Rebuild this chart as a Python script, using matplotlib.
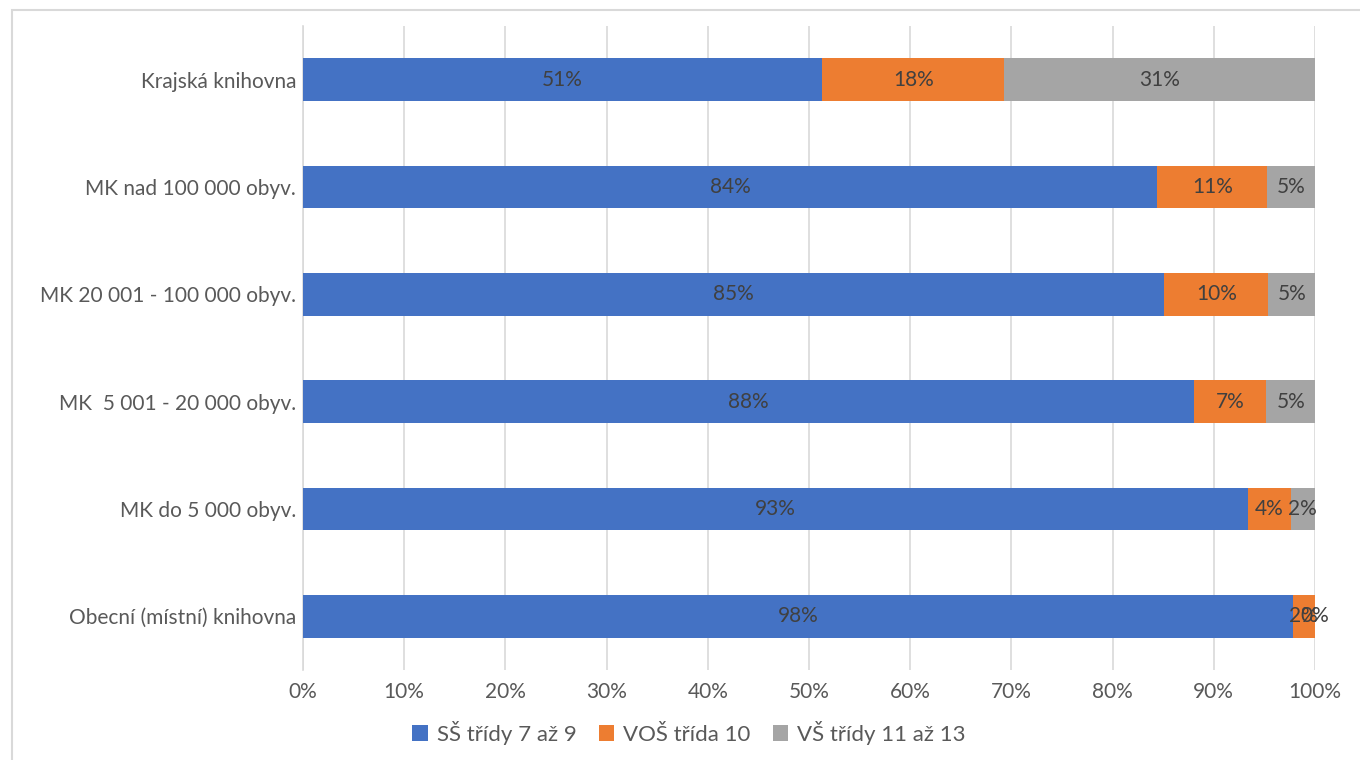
import numpy as np
import matplotlib.pyplot as plt
from matplotlib.patches import Rectangle

plt.rcParams["font.family"] = ["Lato", "DejaVu Sans"]

categories = [
    "Krajská knihovna",
    "MK nad 100 000 obyv.",
    "MK 20 001 - 100 000 obyv.",
    "MK  5 001 - 20 000 obyv.",
    "MK do 5 000 obyv.",
    "Obecní (místní) knihovna",
]
series_names = ["SŠ třídy 7 až 9", "VOŠ třída 10", "VŠ třídy 11 až 13"]
ss_vals = [0.513, 0.844, 0.851, 0.880, 0.934, 0.978]
vos_vals = [0.180, 0.109, 0.103, 0.072, 0.042, 0.022]
vs_vals = [0.307, 0.047, 0.046, 0.048, 0.024, 0.000]
colors = ["#4472C4", "#ED7D31", "#A5A5A5"]

text_col = "#595959"
label_col = "#404040"

fig = plt.figure(figsize=(13.6, 7.6), dpi=100)
# chart frame
fig.patches.append(Rectangle((12 / 1360, -0.01), 1.0, 1 - 10 / 760 + 0.01,
                             transform=fig.transFigure, fill=False,
                             edgecolor="#D9D9D9", linewidth=1.5))

ax = fig.add_axes([303 / 1360, 1 - 670 / 760, 1012 / 1360, 644 / 760])

y = np.arange(len(categories))
left = np.zeros(len(categories))
for name, vals, col in zip(series_names, [ss_vals, vos_vals, vs_vals], colors):
    vals = np.array(vals)
    ax.barh(y, vals, left=left, height=0.4, color=col, label=name, zorder=3)
    for yi, l, v in zip(y, left, vals):
        ax.text(l + v / 2, yi, f"{round(v * 100):.0f}%", ha="center", va="center",
                fontsize=15, color=label_col, zorder=4)
    left = left + vals

ax.set_ylim(len(categories) - 0.5, -0.5)
ax.set_xlim(0, 1)
ax.set_yticks(y)
ax.set_yticklabels(categories)
ax.set_xticks(np.arange(0, 1.01, 0.1))
ax.set_xticklabels([f"{int(round(t * 100))}%" for t in np.arange(0, 1.01, 0.1)])
ax.tick_params(axis="both", length=0, labelsize=15, labelcolor=text_col)
ax.tick_params(axis="x", pad=9)
ax.tick_params(axis="y", pad=5)
ax.grid(axis="x", color="#D9D9D9", linewidth=1.2, zorder=0)
for s in ["top", "right", "bottom"]:
    ax.spines[s].set_visible(False)
ax.spines["left"].set_color("#D9D9D9")
ax.spines["left"].set_linewidth(1.2)

leg = fig.legend(loc="center", bbox_to_anchor=(689 / 1360, 1 - 733 / 760), ncol=3,
                 frameon=False, fontsize=16, handlelength=0.7, handleheight=0.7,
                 handletextpad=0.4, columnspacing=1.0)
for t in leg.get_texts():
    t.set_color(text_col)

fig.savefig("out.png", dpi=100)
